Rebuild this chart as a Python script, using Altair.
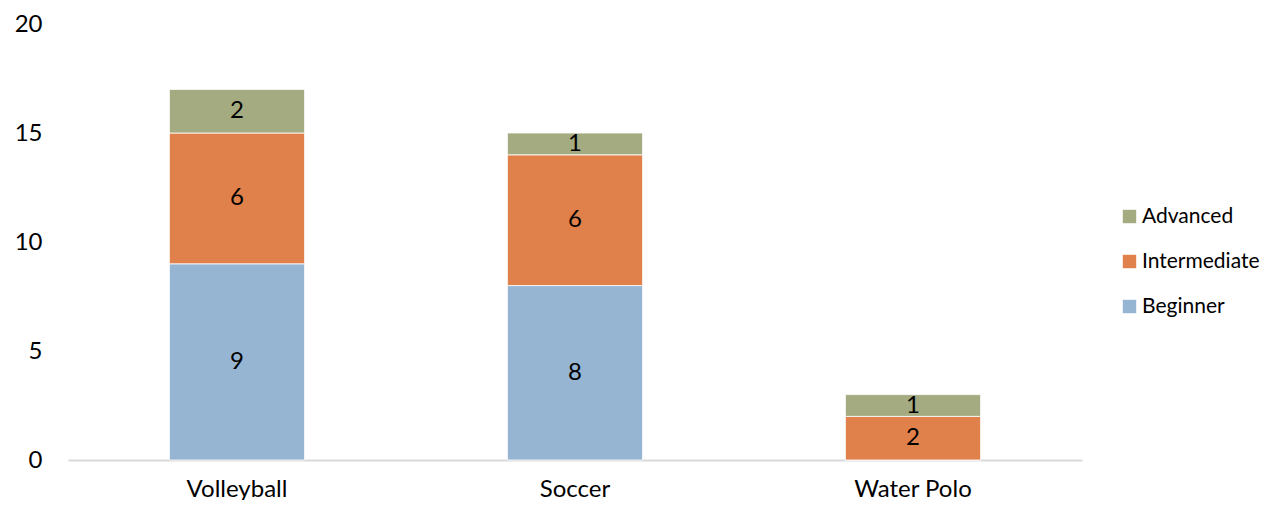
import altair as alt
import pandas as pd

sports = ["Volleyball", "Soccer", "Water Polo"]
levels = ["Beginner", "Intermediate", "Advanced"]
beginner = [9, 8, 0]
intermediate = [6, 6, 2]
advanced = [2, 1, 1]

rows = []
for i, s in enumerate(sports):
    for j, (lvl, vals) in enumerate(zip(levels, [beginner, intermediate, advanced])):
        rows.append({"sport": s, "level": lvl, "value": vals[i], "ord": j})
df = pd.DataFrame(rows)

FONT = "Lato"
color_scale = alt.Scale(
    domain=["Advanced", "Intermediate", "Beginner"],
    range=["#a5ab81", "#e0804a", "#95b5d3"],
)

base = alt.Chart(df).transform_stack(
    stack="value", groupby=["sport"], as_=["y0", "y1"],
    sort=[alt.SortField("ord", order="ascending")],
).transform_calculate(mid="(datum.y0 + datum.y1) / 2")

x_enc = alt.X(
    "sport:N", sort=sports, title=None,
    scale=alt.Scale(paddingInner=0.6, paddingOuter=0.3),
    axis=alt.Axis(labelAngle=0, labelFont=FONT, labelFontSize=24, labelColor="#000000",
                  labelPadding=17, ticks=False, domainColor="#d9d9d9", domainWidth=2),
)

bars = base.mark_bar(stroke="white", strokeWidth=0.8).encode(
    x=x_enc,
    y=alt.Y("y0:Q", title=None,
            scale=alt.Scale(domain=[0, 20]),
            axis=alt.Axis(values=[0, 5, 10, 15, 20], grid=False, domain=False, ticks=False,
                          labelFont=FONT, labelFontSize=24, labelColor="#000000",
                          labelPadding=26)),
    y2="y1:Q",
    color=alt.Color("level:N", scale=color_scale, title=None,
                    legend=alt.Legend(orient="none", legendX=1051, legendY=182,
                                      symbolType="square", symbolSize=180,
                                      symbolStrokeWidth=0, labelFont=FONT,
                                      labelFontSize=21, labelColor="#000000",
                                      rowPadding=23, labelOffset=2)),
)

labels = base.transform_filter("datum.value > 0").mark_text(
    font=FONT, fontSize=24, color="#000000", baseline="middle"
).encode(
    x=alt.X("sport:N", sort=sports),
    y=alt.Y("mid:Q"),
    text="value:Q",
)

chart = alt.layer(bars, labels).properties(
    width=1014, height=436,
    autosize=alt.AutoSizeParams(type="none"),
    padding={"left": 60, "top": 16, "right": 191, "bottom": 40},
).configure_view(stroke=None)

chart.save("out.html", embed_options={"renderer": "svg", "actions": False})
